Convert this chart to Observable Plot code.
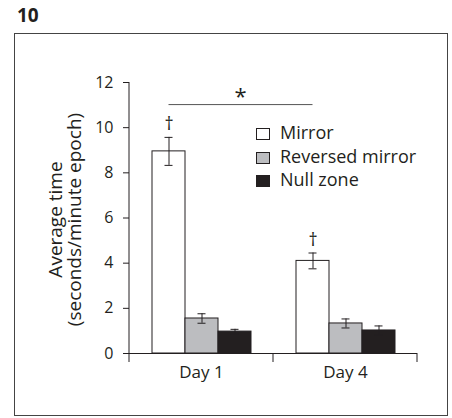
<!DOCTYPE html>
<html><head><meta charset="utf-8">
<script src="https://cdn.jsdelivr.net/npm/d3@7"></script>
<script src="https://cdn.jsdelivr.net/npm/@observablehq/plot@0.6"></script>
<style>
body{margin:0;background:#fff;font-family:"Open Sans",sans-serif;color:#231f20}
#wrap{position:relative;width:452px;height:418px;overflow:hidden}
#title{position:absolute;left:17px;top:6px;font-size:19px;font-weight:700;line-height:19px}
#box{position:absolute;left:14px;top:33px;width:434px;height:383px;border:1.5px solid #444;box-sizing:border-box}
#chart{position:absolute;left:0;top:0}
#legend{position:absolute;left:256px;top:121px;font-size:18px;line-height:23.5px}
#legend .row{display:flex;align-items:center;height:23.5px}
#legend .sw{width:12px;height:10px;border:1px solid #231f20;margin-right:10px;margin-top:3px;flex:none}
</style></head>
<body>
<div id="wrap">
  <div id="box"></div>
  <div id="title">10</div>
  <div id="chart"></div>
  <div id="legend"></div>
</div>
<script>
const days = ["Day 1", "Day 4"];
const series = ["Mirror", "Reversed mirror", "Null zone"];
const colors = ["#ffffff", "#bcbdc0", "#231f20"];
const day1Means = [8.95, 1.55, 0.97];
const day1Errors = [0.62, 0.21, 0.1];
const day4Means = [4.1, 1.33, 1.02];
const day4Errors = [0.35, 0.2, 0.2];
const daggerSeries = "Mirror";
const daggerMark = "†";
const yTicks = [0, 2, 4, 6, 8, 10, 12];
const sigLevel = 11;
const sigMark = "*";
const yLabelLines = ["Average time", "(seconds/minute epoch)"];

const means = [day1Means, day4Means];
const errs = [day1Errors, day4Errors];
const rows = days.flatMap((day, i) => series.map((s, j) => ({
  day, series: s, mean: means[i][j], err: errs[i][j]
})));
const ink = "#231f20";

const plot = Plot.plot({
  width: 452, height: 418,
  marginLeft: 129, marginRight: 35, marginTop: 82, marginBottom: 65,
  style: {fontFamily: "Open Sans", color: ink, background: "transparent", overflow: "visible"},
  fx: {domain: days, padding: 0, label: null},
  x: {domain: series, paddingInner: 0, paddingOuter: 0.62, axis: null},
  y: {domain: [0, 12]},
  color: {domain: series, range: colors},
  marks: [
    Plot.barY(rows, {fx: "day", x: "series", y: "mean", fill: "series", stroke: ink, strokeWidth: 1}),
    Plot.ruleY([0], {stroke: ink, strokeWidth: 1}),
    Plot.ruleX(rows, {fx: "day", x: "series", y1: d => d.mean - d.err, y2: d => d.mean + d.err, stroke: ink, strokeWidth: 1}),
    Plot.tickY(rows, {fx: "day", x: "series", y: d => d.mean + d.err, insetLeft: 12.5, insetRight: 12.5, stroke: ink}),
    Plot.tickY(rows, {fx: "day", x: "series", y: d => d.mean - d.err, insetLeft: 12.5, insetRight: 12.5, stroke: ink}),
    Plot.text(rows.filter(d => d.series === daggerSeries), {fx: "day", x: "series", y: d => d.mean + d.err, text: () => daggerMark, dy: -13, fontSize: 18, fill: ink}),
    Plot.axisY({ticks: yTicks, tickSize: 6, tickPadding: 10, fontSize: 16, label: null, stroke: ink, fill: ink}),
    Plot.axisFx({anchor: "bottom", tickSize: 0, tickPadding: 12, fontSize: 17, label: null, fill: ink})
  ]
});
document.getElementById("chart").appendChild(plot);

// decorations derived from the plot's scales
const sx = plot.scale("x"), sfx = plot.scale("fx"), sy = plot.scale("y");
const svg = d3.select(plot);
const g = svg.append("g").attr("stroke", ink).attr("fill", "none");
const left = sfx.range[0];
const y0 = sy.apply(0);
g.append("line").attr("x1", left).attr("x2", left).attr("y1", sy.apply(12)).attr("y2", y0);
const edges = days.map(d => sfx.apply(d)).concat([sfx.apply(days[days.length - 1]) + sfx.bandwidth]);
edges.forEach(e => g.append("line").attr("x1", e).attr("x2", e).attr("y1", y0).attr("y2", y0 + 9));
const cx = (day, s) => sfx.apply(day) + sx.apply(s) - sx.range[0] + sx.bandwidth / 2;
const xa = cx(days[0], "Mirror"), xb = cx(days[1], "Mirror"), ys = sy.apply(sigLevel);
g.append("line").attr("x1", xa).attr("x2", xb).attr("y1", ys).attr("y2", ys).attr("stroke", "#555");
svg.append("text").attr("x", (xa + xb) / 2).attr("y", ys - 0.5).attr("text-anchor", "middle")
  .attr("font-size", 22).attr("fill", ink).attr("font-family", "Open Sans").text(sigMark);
const ymid = (sy.apply(0) + sy.apply(12)) / 2 + 2;
const lab = svg.append("g").attr("font-family", "Open Sans").attr("font-size", 19).attr("fill", ink).attr("text-anchor", "middle");
[62, 81].forEach((bx, i) => lab.append("text").attr("transform", `translate(${bx},${ymid}) rotate(-90)`).text(yLabelLines[i]));

// legend
const leg = d3.select("#legend");
series.forEach((s, i) => {
  const r = leg.append("div").attr("class", "row");
  r.append("div").attr("class", "sw").style("background", colors[i]);
  r.append("span").text(s);
});
</script>
</body></html>
